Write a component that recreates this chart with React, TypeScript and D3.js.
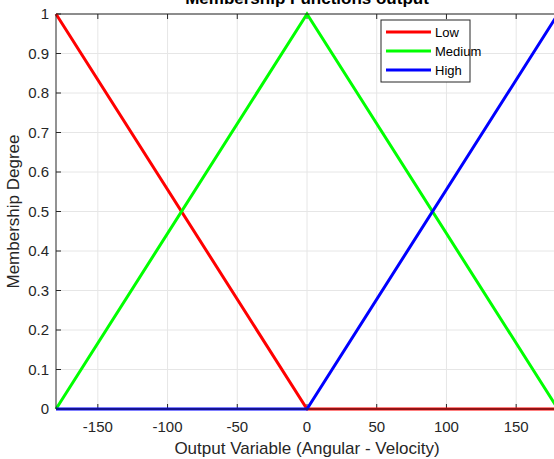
import React from "react";
import * as d3 from "d3";

const xDomain: [number, number] = [-180, 180];
const yDomain: [number, number] = [0, 1];
const xTicks = [-150, -100, -50, 0, 50, 100, 150];
const yTicks = [0, 0.1, 0.2, 0.3, 0.4, 0.5, 0.6, 0.7, 0.8, 0.9, 1];
const seriesNames = ["Low", "Medium", "High"];
const seriesColors = ["#ff0000", "#00ff00", "#0000ff"];
const xPoints = [-180, 0, 180];
const lowValues = [1, 0, 0];
const mediumValues = [0, 1, 0];
const highValues = [0, 0, 1];
const allValues = [lowValues, mediumValues, highValues];

const W = 554, H = 459;
const left = 56, top = 14, bottom = 409, right = 558;

export default function App() {
  const x = d3.scaleLinear().domain(xDomain).range([left, right]);
  const y = d3.scaleLinear().domain(yDomain).range([bottom, top]);
  const line = d3.line<[number, number]>().x(d => x(d[0])).y(d => y(d[1]));
  const font = "'Liberation Sans', Arial, sans-serif";
  const legendX = 381, legendY = 20;
  return (
    <svg width={W} height={H} style={{ position: "absolute", left: 0, top: 0, background: "#fff" }} fontFamily={font}>
      <rect x={0} y={0} width={W} height={H} fill="#fff" />
      {/* grid */}
      {xTicks.map(t => (
        <line key={"gx" + t} x1={x(t)} x2={x(t)} y1={top} y2={bottom} stroke="#e6e6e6" strokeWidth={1} />
      ))}
      {yTicks.map(t => (
        <line key={"gy" + t} x1={left} x2={right} y1={y(t)} y2={y(t)} stroke="#e6e6e6" strokeWidth={1} />
      ))}
      {/* ticks */}
      {xTicks.map(t => (
        <g key={"tx" + t}>
          <line x1={x(t)} x2={x(t)} y1={bottom} y2={bottom - 5} stroke="#262626" />
          <line x1={x(t)} x2={x(t)} y1={top} y2={top + 5} stroke="#262626" />
          <text x={x(t)} y={bottom + 23} textAnchor="middle" fontSize={15} fill="#262626">{t}</text>
        </g>
      ))}
      {yTicks.map(t => (
        <g key={"ty" + t}>
          <line x1={left} x2={left + 5} y1={y(t)} y2={y(t)} stroke="#262626" />
          <text x={left - 7} y={y(t) + 5} textAnchor="end" fontSize={15} fill="#262626">{t}</text>
        </g>
      ))}
      {/* series */}
      {allValues.map((vals, i) => (
        <path key={seriesNames[i]} d={line(xPoints.map((xv, j) => [xv, vals[j]] as [number, number])) || ""}
          fill="none" stroke={seriesColors[i]} strokeWidth={3} />
      ))}
      {/* axes box */}
      <line x1={left} x2={right} y1={top} y2={top} stroke="#262626" />
      <line x1={left} x2={right} y1={bottom} y2={bottom} stroke="#262626" />
      <line x1={left} x2={left} y1={top} y2={bottom} stroke="#262626" />
      {/* legend */}
      <rect x={legendX} y={legendY} width={89} height={62} fill="#fff" stroke="#262626" strokeWidth={1} />
      {seriesNames.map((n, i) => (
        <g key={"lg" + n}>
          <line x1={legendX + 5} x2={legendX + 50} y1={legendY + 12 + i * 19} y2={legendY + 12 + i * 19} stroke={seriesColors[i]} strokeWidth={3} />
          <text x={legendX + 54} y={legendY + 17 + i * 19} fontSize={13} fill="#000">{n}</text>
        </g>
      ))}
      {/* title & labels */}
      <text x={307} y={4} textAnchor="middle" fontSize={17} fontWeight="bold" fill="#000">Membership Functions output</text>
      <text x={307} y={454} textAnchor="middle" fontSize={17} fill="#262626">Output Variable (Angular - Velocity)</text>
      <text transform={`translate(19,${(top + bottom) / 2}) rotate(-90)`} textAnchor="middle" fontSize={17} fill="#262626">Membership Degree</text>
    </svg>
  );
}
